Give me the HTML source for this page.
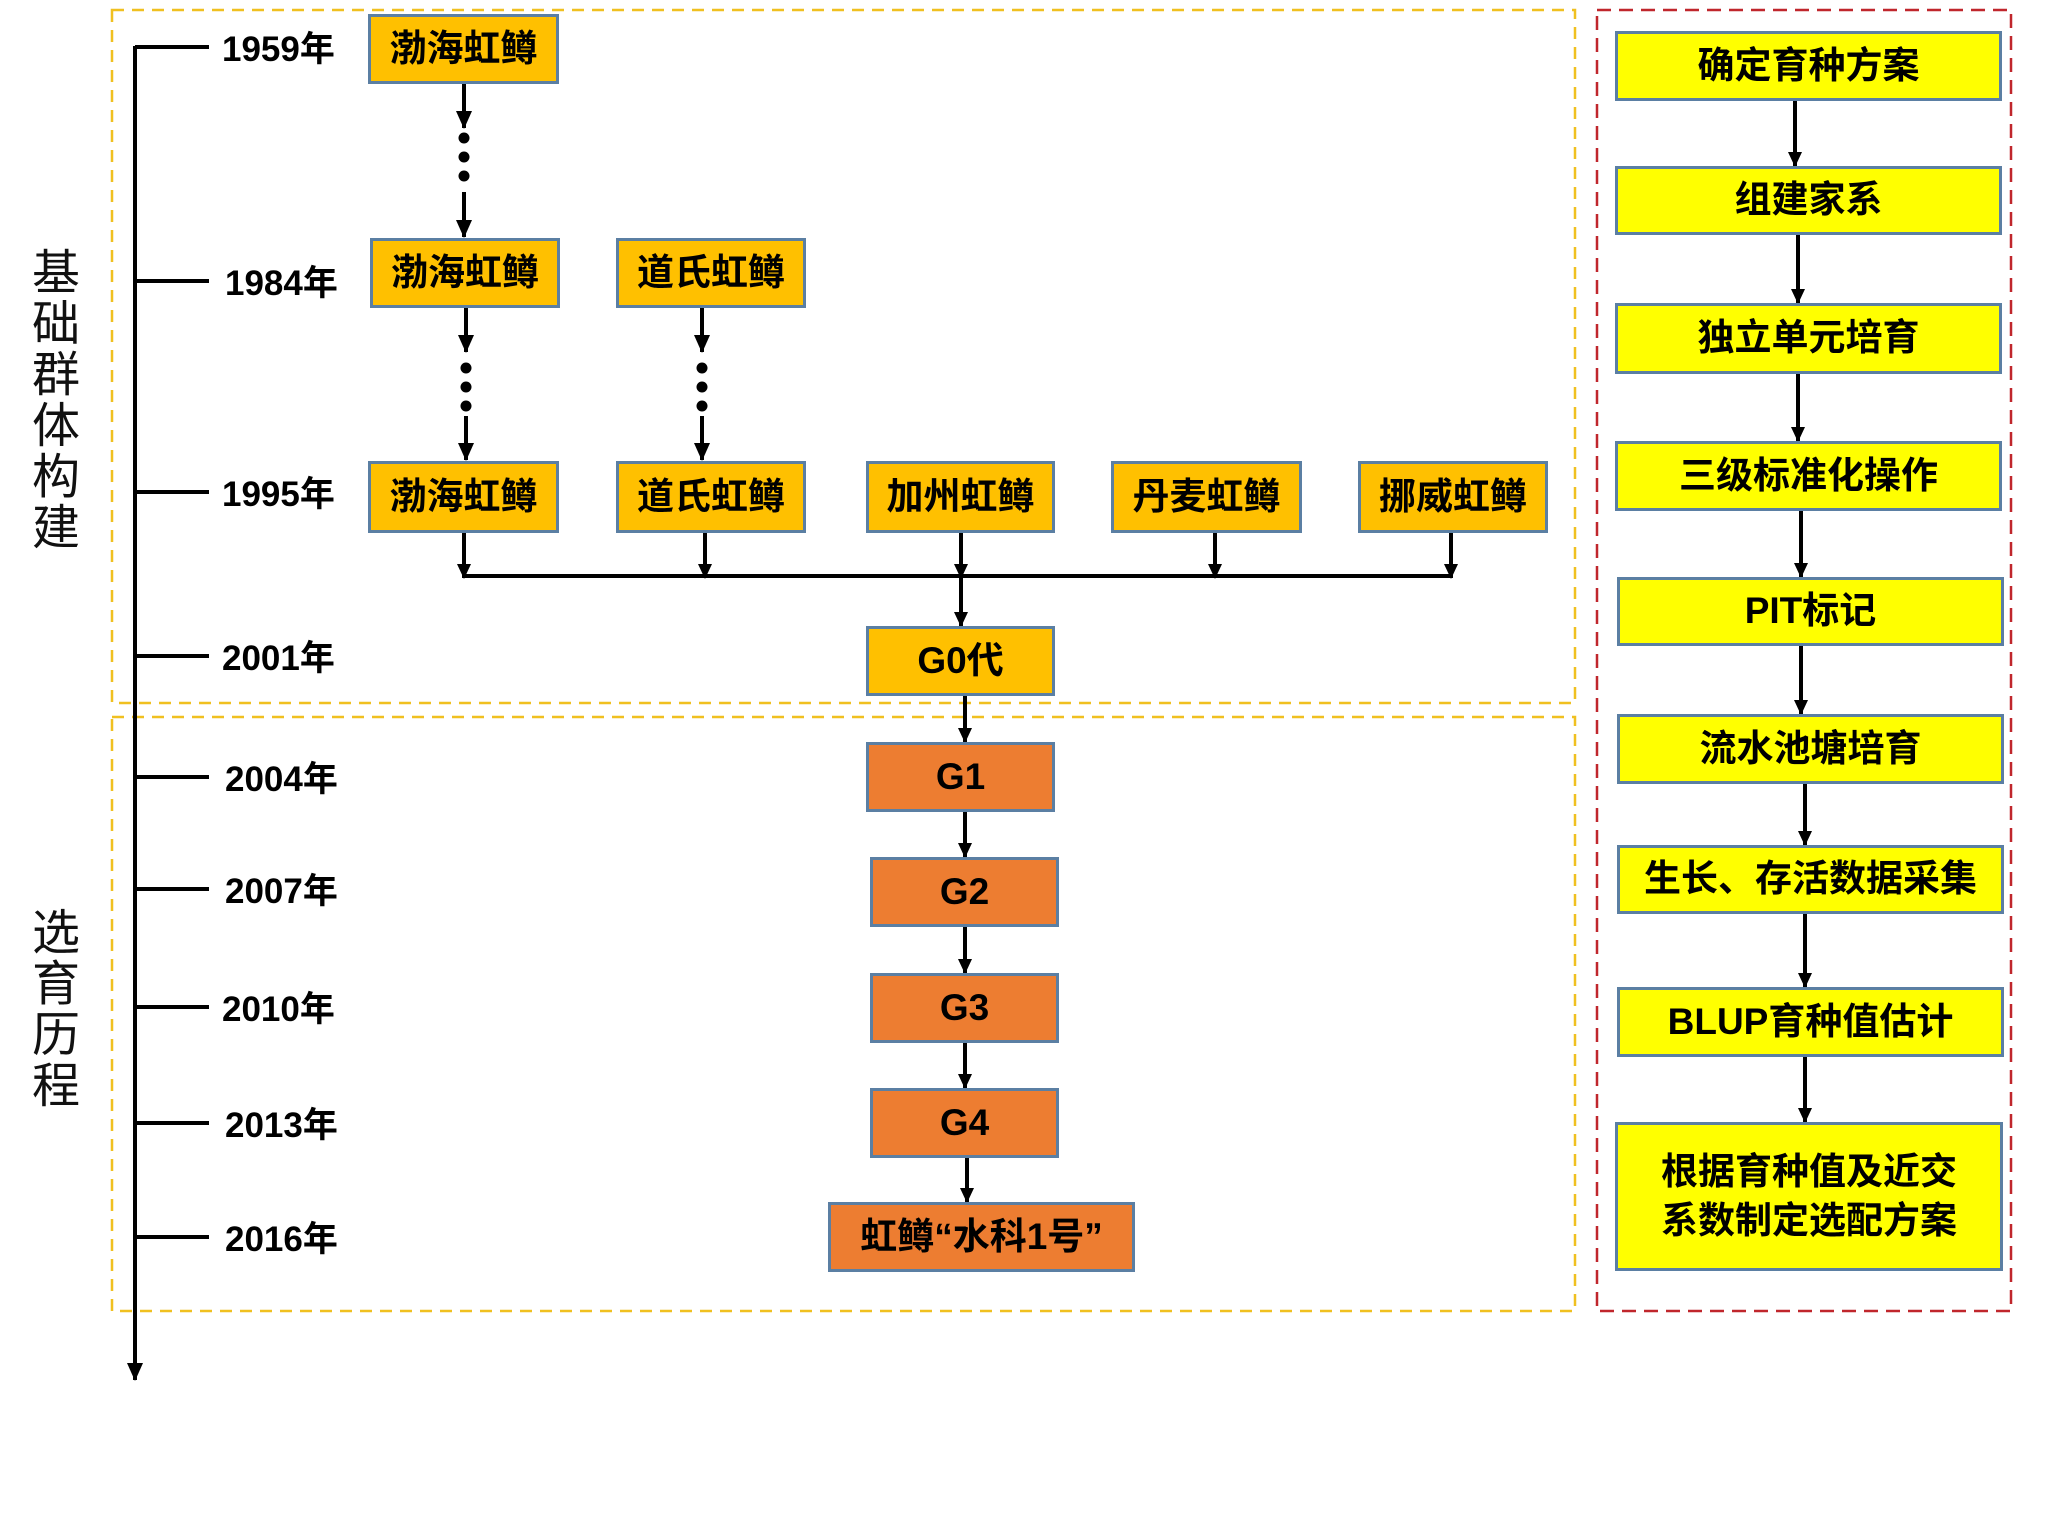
<!DOCTYPE html>
<html><head><meta charset="utf-8"><style>
body{margin:0;width:2048px;height:1536px;background:#fff;position:relative;overflow:hidden;font-family:"Liberation Sans","Noto Sans CJK SC",sans-serif;}
.b{position:absolute;box-sizing:border-box;border:3px solid #5b7fa3;display:flex;align-items:center;justify-content:center;font-weight:bold;font-size:37px;color:#000;text-align:center;line-height:1.3}
.o{background:#FFC000}.d{background:#ED7D31}.y{background:#FFFF00}
.yr{position:absolute;left:222px;font-weight:bold;font-size:35px;line-height:40px}
.v{position:absolute;left:28px;width:56px;font-size:48px;line-height:51px;text-align:center;color:#111}
</style></head><body>
<svg width="2048" height="1536" style="position:absolute;left:0;top:0">
<defs><marker id="a" markerWidth="15" markerHeight="14" refX="14" refY="7" orient="auto" markerUnits="userSpaceOnUse" viewBox="0 0 15 14"><path d="M0,0 L15,7 L0,14z" fill="#000"/></marker>
<marker id="a2" markerWidth="18" markerHeight="16" refX="17" refY="8" orient="auto" markerUnits="userSpaceOnUse" viewBox="0 0 18 16"><path d="M0,0 L18,8 L0,16z" fill="#000"/></marker></defs>
<rect x="112" y="10" width="1463" height="693" fill="none" stroke="#F0C020" stroke-width="2.5" stroke-dasharray="12,8"/>
<rect x="112" y="717" width="1463" height="594" fill="none" stroke="#F0C020" stroke-width="2.5" stroke-dasharray="12,8"/>
<rect x="1597" y="10" width="414" height="1301" fill="none" stroke="#C0262C" stroke-width="2.5" stroke-dasharray="14,8"/>
<g stroke="#000" stroke-width="4" fill="none">
<line x1="135" y1="46" x2="135" y2="1380" marker-end="url(#a2)"/>
<line x1="135" y1="47" x2="209" y2="47"/><line x1="135" y1="281" x2="209" y2="281"/><line x1="135" y1="492" x2="209" y2="492"/><line x1="135" y1="656" x2="209" y2="656"/><line x1="135" y1="777" x2="209" y2="777"/><line x1="135" y1="889" x2="209" y2="889"/><line x1="135" y1="1007" x2="209" y2="1007"/><line x1="135" y1="1123" x2="209" y2="1123"/><line x1="135" y1="1237" x2="209" y2="1237"/>
<line x1="464" y1="84" x2="464" y2="128" marker-end="url(#a2)"/>
<line x1="464" y1="192" x2="464" y2="237" marker-end="url(#a2)"/>
<line x1="466" y1="308" x2="466" y2="352" marker-end="url(#a2)"/>
<line x1="466" y1="416" x2="466" y2="460" marker-end="url(#a2)"/>
<line x1="702" y1="308" x2="702" y2="352" marker-end="url(#a2)"/>
<line x1="702" y1="416" x2="702" y2="460" marker-end="url(#a2)"/>
<line x1="464" y1="533" x2="464" y2="578" marker-end="url(#a)"/>
<line x1="705" y1="533" x2="705" y2="578" marker-end="url(#a)"/>
<line x1="961" y1="533" x2="961" y2="578" marker-end="url(#a)"/>
<line x1="1215" y1="533" x2="1215" y2="578" marker-end="url(#a)"/>
<line x1="1451" y1="533" x2="1451" y2="578" marker-end="url(#a)"/>
<line x1="464" y1="576" x2="1453" y2="576"/>
<line x1="961" y1="576" x2="961" y2="626" marker-end="url(#a)"/>
<line x1="965" y1="696" x2="965" y2="742" marker-end="url(#a)"/>
<line x1="965" y1="812" x2="965" y2="857" marker-end="url(#a)"/>
<line x1="965" y1="927" x2="965" y2="973" marker-end="url(#a)"/>
<line x1="965" y1="1043" x2="965" y2="1088" marker-end="url(#a)"/>
<line x1="967" y1="1158" x2="967" y2="1202" marker-end="url(#a)"/>
<line x1="1795" y1="101" x2="1795" y2="166" marker-end="url(#a)"/>
<line x1="1798" y1="235" x2="1798" y2="303" marker-end="url(#a)"/>
<line x1="1798" y1="374" x2="1798" y2="441" marker-end="url(#a)"/>
<line x1="1801" y1="511" x2="1801" y2="577" marker-end="url(#a)"/>
<line x1="1801" y1="646" x2="1801" y2="714" marker-end="url(#a)"/>
<line x1="1805" y1="784" x2="1805" y2="845" marker-end="url(#a)"/>
<line x1="1805" y1="914" x2="1805" y2="987" marker-end="url(#a)"/>
<line x1="1805" y1="1057" x2="1805" y2="1122" marker-end="url(#a)"/>
</g>
<g fill="#000"><circle cx="464" cy="138" r="5.5"/><circle cx="464" cy="157" r="5.5"/><circle cx="464" cy="176" r="5.5"/>
<circle cx="466" cy="368" r="5.5"/><circle cx="466" cy="387" r="5.5"/><circle cx="466" cy="406" r="5.5"/>
<circle cx="702" cy="368" r="5.5"/><circle cx="702" cy="387" r="5.5"/><circle cx="702" cy="406" r="5.5"/></g>
</svg>
<div class="yr" style="top:30px">1959年</div>
<div class="yr" style="top:264px;left:225px">1984年</div>
<div class="yr" style="top:475px">1995年</div>
<div class="yr" style="top:639px">2001年</div>
<div class="yr" style="top:760px;left:225px">2004年</div>
<div class="yr" style="top:872px;left:225px">2007年</div>
<div class="yr" style="top:990px">2010年</div>
<div class="yr" style="top:1106px;left:225px">2013年</div>
<div class="yr" style="top:1220px;left:225px">2016年</div>
<div class="v" style="top:248px">基<br>础<br>群<br>体<br>构<br>建</div>
<div class="v" style="top:908px">选<br>育<br>历<br>程</div>
<div class="b o" style="left:368px;top:14px;width:191px;height:70px">渤海虹鳟</div>
<div class="b o" style="left:370px;top:238px;width:190px;height:70px">渤海虹鳟</div>
<div class="b o" style="left:616px;top:238px;width:190px;height:70px">道氏虹鳟</div>
<div class="b o" style="left:368px;top:461px;width:191px;height:72px">渤海虹鳟</div>
<div class="b o" style="left:616px;top:461px;width:190px;height:72px">道氏虹鳟</div>
<div class="b o" style="left:866px;top:461px;width:189px;height:72px">加州虹鳟</div>
<div class="b o" style="left:1111px;top:461px;width:191px;height:72px">丹麦虹鳟</div>
<div class="b o" style="left:1358px;top:461px;width:190px;height:72px">挪威虹鳟</div>
<div class="b o" style="left:866px;top:626px;width:189px;height:70px">G0代</div>
<div class="b d" style="left:866px;top:742px;width:189px;height:70px">G1</div>
<div class="b d" style="left:870px;top:857px;width:189px;height:70px">G2</div>
<div class="b d" style="left:870px;top:973px;width:189px;height:70px">G3</div>
<div class="b d" style="left:870px;top:1088px;width:189px;height:70px">G4</div>
<div class="b d" style="left:828px;top:1202px;width:307px;height:70px">虹鳟“水科1号”</div>
<div class="b y" style="left:1615px;top:31px;width:387px;height:70px">确定育种方案</div>
<div class="b y" style="left:1615px;top:166px;width:387px;height:69px">组建家系</div>
<div class="b y" style="left:1615px;top:303px;width:387px;height:71px">独立单元培育</div>
<div class="b y" style="left:1615px;top:441px;width:387px;height:70px">三级标准化操作</div>
<div class="b y" style="left:1617px;top:577px;width:387px;height:69px">PIT标记</div>
<div class="b y" style="left:1617px;top:714px;width:387px;height:70px">流水池塘培育</div>
<div class="b y" style="left:1617px;top:845px;width:387px;height:69px">生长、存活数据采集</div>
<div class="b y" style="left:1617px;top:987px;width:387px;height:70px">BLUP育种值估计</div>
<div class="b y" style="left:1615px;top:1122px;width:388px;height:149px">根据育种值及近交<br>系数制定选配方案</div>
</body></html>
